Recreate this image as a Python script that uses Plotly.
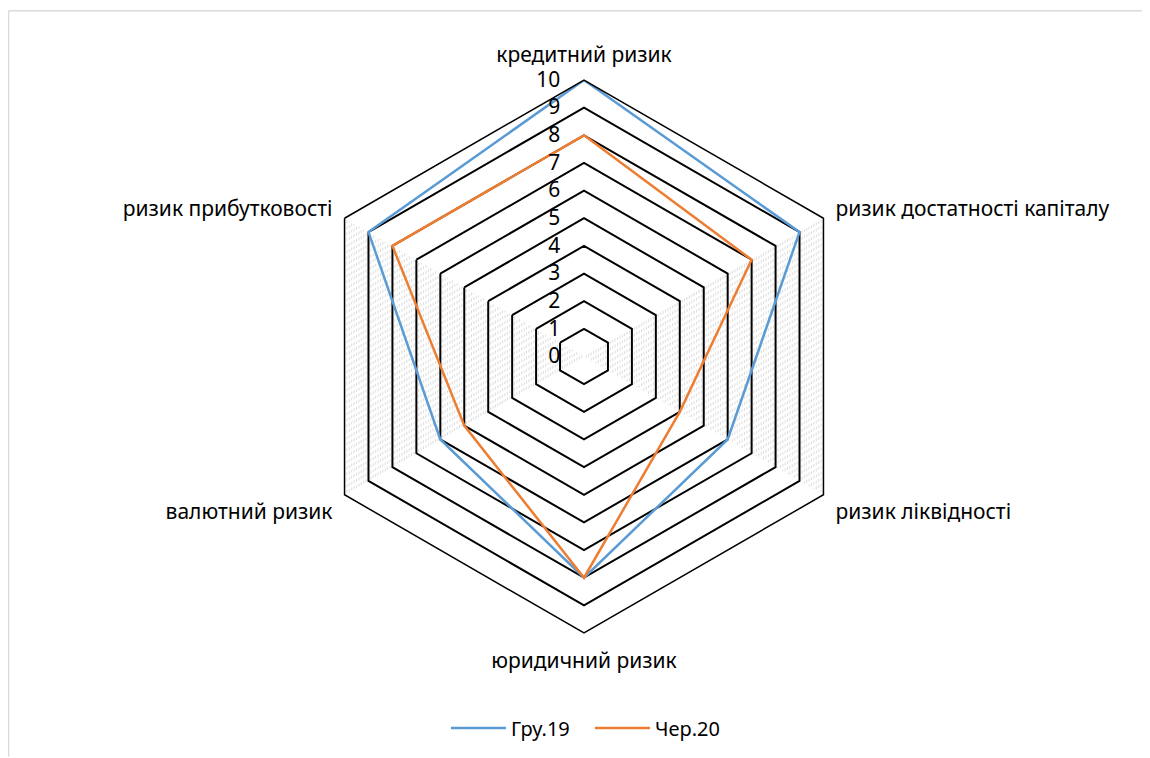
import plotly.graph_objects as go
import numpy as np

categories = ["кредитний ризик", "ризик достатності капіталу", "ризик ліквідності",
              "юридичний ризик", "валютний ризик", "ризик прибутковості"]
gru19 = [10, 9, 6, 8, 6, 9]
cher20 = [8, 7, 4, 8, 5, 8]
series_names = ["Гру.19", "Чер.20"]
radial_ticks = list(range(0, 11))

FONT = "Noto Sans"
fig = go.Figure()

colors = ["#5B9BD5", "#ED7D31"]

# faint minor gridlines (visible on the vertical edges only, as in the reference)
minor = [v for v in np.arange(0.1, 10.0, 0.1) if abs(v - round(v)) > 1e-6]
mr, mt = [], []
for v in minor:
    mr += [v, v, None, v, v, None]
    mt += [categories[1], categories[2], None, categories[4], categories[5], None]
fig.add_trace(go.Scatterpolar(r=mr, theta=mt, mode="lines", connectgaps=False,
                              line=dict(color="#d4d4d4", width=0.8, dash="dot"),
                              hoverinfo="skip", showlegend=False))

for name, vals, c in zip(series_names, [gru19, cher20], colors):
    fig.add_trace(go.Scatterpolar(r=vals + vals[:1], theta=categories + categories[:1],
                                  mode="lines", name=name,
                                  line=dict(color=c, width=2.5)))

OFF = 8  # page body margin
W, H = 1150 - OFF, 758 - OFF
cx, cy, rad = 584 - OFF, 357 - OFF, 277
L, R, T, B = cx - rad, W - (cx + rad), cy - rad, H - (cy + rad)
pw, ph = W - L - R, H - T - B

def px_x(x):
    return (x - OFF - L) / pw

def px_y(y):
    return (H - B - (y - OFF)) / ph

fig.update_layout(
    width=W, height=H,
    margin=dict(l=L, r=R, t=T, b=B),
    paper_bgcolor="white", plot_bgcolor="white",
    font=dict(family=FONT, size=20, color="#000000"),
    polar=dict(
        bgcolor="white",
        gridshape="linear",
        domain=dict(x=[0, 1], y=[0, 1]),
        angularaxis=dict(rotation=90, direction="clockwise", showline=True,
                         categoryorder="array", categoryarray=categories,
                         linecolor="#000000", linewidth=1.5, showgrid=False,
                         ticks="outside", ticklen=9, tickcolor="rgba(0,0,0,0)",
                         tickfont=dict(family=FONT, size=21, color="#000")),
        radialaxis=dict(range=[0, 10], tickvals=radial_ticks, showline=False,
                        gridcolor="#000000", gridwidth=1.5, angle=90, tickangle=90,
                        side="counterclockwise", ticks="outside", ticklen=16,
                        tickcolor="rgba(0,0,0,0)",
                        tickfont=dict(family=FONT, size=21, color="#000")),
    ),
    legend=dict(orientation="h", x=px_x(590), xanchor="center", y=px_y(728),
                yanchor="middle", itemwidth=55, entrywidth=74, entrywidthmode="pixels",
                font=dict(family=FONT, size=20, color="#000")),
    shapes=[
        dict(type="line", xref="paper", yref="paper", x0=px_x(8.5), x1=px_x(1150),
             y0=px_y(10.5), y1=px_y(10.5), line=dict(color="#d9d9d9", width=1.5)),
        dict(type="line", xref="paper", yref="paper", x0=px_x(8.5), x1=px_x(8.5),
             y0=px_y(10.5), y1=px_y(758), line=dict(color="#d9d9d9", width=1.5)),
    ],
)

fig.write_html("out.html")
